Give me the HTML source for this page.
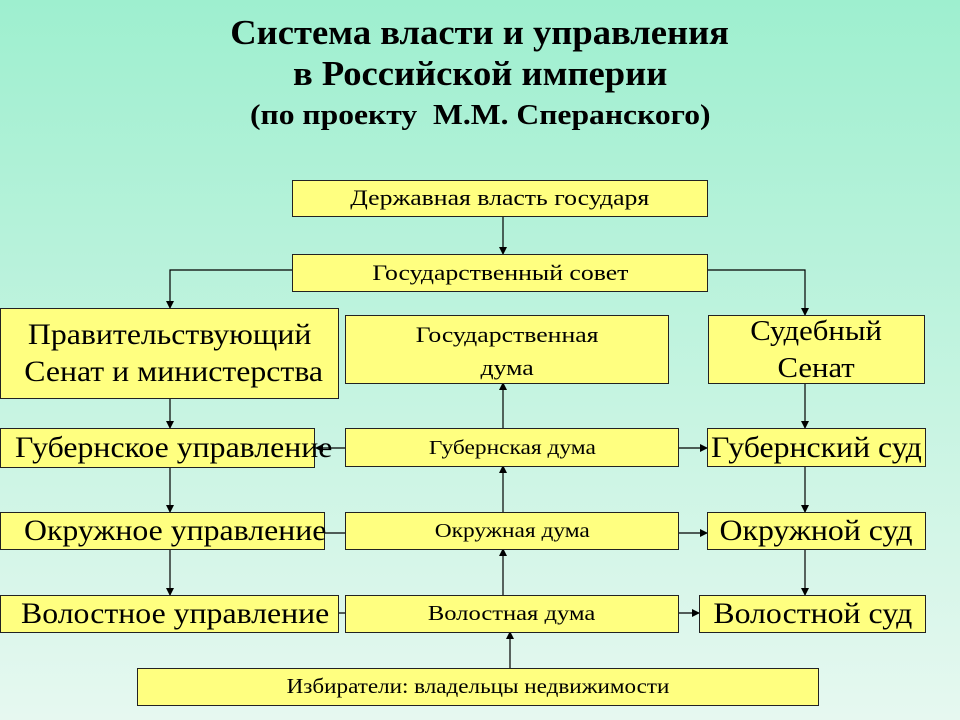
<!DOCTYPE html>
<html><head><meta charset="utf-8"><style>
body{margin:0;width:960px;height:720px;overflow:hidden;background:linear-gradient(#9eefcf,#e6f8f0);font-family:"Liberation Serif",serif;position:relative}
.t{position:absolute;left:0;width:960px;text-align:center;font-weight:bold;color:#000;white-space:nowrap}
.t span{display:inline-block}
.b{position:absolute;box-sizing:border-box;background:#ffff80;border:1.5px solid #222;display:flex;align-items:center;justify-content:center;text-align:center;white-space:nowrap;color:#000;line-height:1.2}
.s span{display:inline-block;transform:scaleX(1.17)}
.g span{display:inline-block;transform:scaleX(1.06);transform-origin:center}
.l span{transform-origin:left}
svg{position:absolute;left:0;top:0}
</style></head><body>
<div class="t" style="top:13px;font-size:35px"><span style="transform:scaleX(1.045)">Система власти и управления</span></div>
<div class="t" style="top:54px;font-size:35px"><span style="transform:scaleX(1.045)">в Российской империи</span></div>
<div class="t" style="top:99px;font-size:29px"><span style="transform:scaleX(1.09)">(по проекту&nbsp; М.М. Сперанского)</span></div>

<svg width="960" height="720">
<defs><marker id="a" markerWidth="8" markerHeight="8" refX="7" refY="4" orient="auto" markerUnits="userSpaceOnUse"><path d="M0,0 L8,4 L0,8z" fill="#000"/></marker></defs>
<g stroke="#000" stroke-width="1.2" fill="none" marker-end="url(#a)">
<path d="M503 216V254"/>
<path d="M292 270H170V308"/>
<path d="M707 270H805V315"/>
<path d="M503 428V383"/>
<path d="M503 512V466"/>
<path d="M503 595V549"/>
<path d="M510 668V632"/>
<path d="M170 398V428"/>
<path d="M170 467V512"/>
<path d="M170 549V595"/>
<path d="M805 383V428"/>
<path d="M805 466V512"/>
<path d="M805 549V595"/>
<path d="M345 448H316"/>
<path d="M345 533H316"/>
<path d="M345 613H316"/>
<path d="M678 448H707"/>
<path d="M678 533H707"/>
<path d="M678 613H699"/>
</g></svg>

<div class="b s" style="left:292px;top:180px;width:416px;height:37px;font-size:22px"><span>Державная власть государя</span></div>
<div class="b s" style="left:292px;top:254px;width:416px;height:38px;font-size:22px"><span>Государственный совет</span></div>
<div class="b g" style="left:0;top:308px;width:339px;height:91px;font-size:30px;line-height:1.22"><span>Правительствующий<br>&nbsp;Сенат и министерства</span></div>
<div class="b s" style="left:345px;top:315px;width:324px;height:69px;font-size:22px;align-items:flex-start;padding-top:2px;line-height:1.5"><span>Государственная<br>дума</span></div>
<div class="b g" style="left:708px;top:315px;width:217px;height:69px;font-size:29px;line-height:1.25"><span>Судебный<br>Сенат</span></div>
<div class="b g l" style="left:0;top:428px;width:315px;height:40px;font-size:30px;justify-content:flex-start;padding-left:14px"><span>Губернское управление</span></div>
<div class="b s" style="left:345px;top:428px;width:334px;height:39px;font-size:20px"><span>Губернская дума</span></div>
<div class="b g" style="left:707px;top:428px;width:219px;height:39px;font-size:30px"><span>Губернский суд</span></div>
<div class="b g l" style="left:0;top:512px;width:325px;height:38px;font-size:30px;justify-content:flex-start;padding-left:23px"><span>Окружное управление</span></div>
<div class="b s" style="left:345px;top:512px;width:334px;height:38px;font-size:20px"><span>Окружная дума</span></div>
<div class="b g" style="left:707px;top:512px;width:219px;height:38px;font-size:30px"><span>Окружной суд</span></div>
<div class="b g l" style="left:0;top:595px;width:339px;height:38px;font-size:30px;justify-content:flex-start;padding-left:20px"><span>Волостное управление</span></div>
<div class="b s" style="left:345px;top:595px;width:334px;height:38px;font-size:21px"><span>Волостная дума</span></div>
<div class="b g" style="left:699px;top:595px;width:227px;height:38px;font-size:30px"><span>Волостной суд</span></div>
<div class="b s" style="left:137px;top:668px;width:682px;height:38px;font-size:21px"><span style="transform:scaleX(1.1)">Избиратели: владельцы недвижимости</span></div>
</body></html>
